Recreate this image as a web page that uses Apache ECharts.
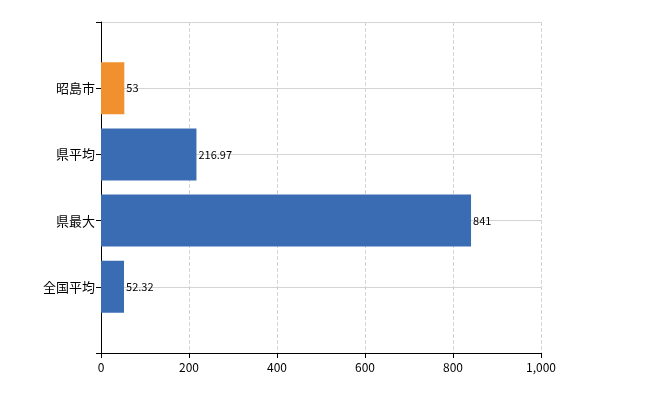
<!DOCTYPE html>
<html>
<head>
<meta charset="utf-8">
<script src="https://cdn.jsdelivr.net/npm/echarts@6/dist/echarts.min.js"></script>
<style>html,body{margin:0;padding:0;background:#fff}#main{width:650px;height:400px}</style>
</head>
<body>
<div id="main"></div>
<script>
// bottom to top, with empty slots at both ends
var categories = ['', '全国平均', '県最大', '県平均', '昭島市', ''];
var values = [null, 52.32, 841, 216.97, 53, null];
var labels = ['', '52.32', '841', '216.97', '53', ''];
var xTicks = [0, 200, 400, 600, 800, 1000];

var chart = echarts.init(document.getElementById('main'));
var font = '"Noto Sans CJK JP", sans-serif';

var option = {
  animation: false,
  grid: { left: 101, right: 109, top: 22, bottom: 47 },
  xAxis: {
    type: 'value',
    min: xTicks[0],
    max: xTicks[xTicks.length - 1],
    interval: 200,
    axisLine: { show: true, lineStyle: { color: '#000' } },
    axisTick: { show: true, length: 5, lineStyle: { color: '#000' } },
    axisLabel: { color: '#000', fontSize: 12, fontFamily: font },
    splitLine: { show: true, lineStyle: { color: '#d4d4d4', type: 'dashed' } }
  },
  yAxis: {
    type: 'category',
    data: categories,
    boundaryGap: false,
    axisLine: { show: true, lineStyle: { color: '#000' } },
    axisTick: { show: true, length: 5, alignWithLabel: true, lineStyle: { color: '#000' } },
    axisLabel: { color: '#000', fontSize: 13, fontFamily: font, margin: 6 },
    splitLine: { show: true, lineStyle: { color: '#d4d4d4' } }
  },
  series: [{
    type: 'bar',
    barWidth: 52,
    data: values.map(function (v, i) {
      return {
        value: v,
        itemStyle: { color: categories[i] === '昭島市' ? '#f0902f' : '#3a6cb4' }
      };
    }),
    label: {
      show: true,
      position: 'right',
      distance: 2,
      color: '#000',
      fontSize: 11,
      fontFamily: font,
      formatter: function (p) { return labels[p.dataIndex]; }
    }
  }]
};
chart.setOption(option);
</script>
</body>
</html>
